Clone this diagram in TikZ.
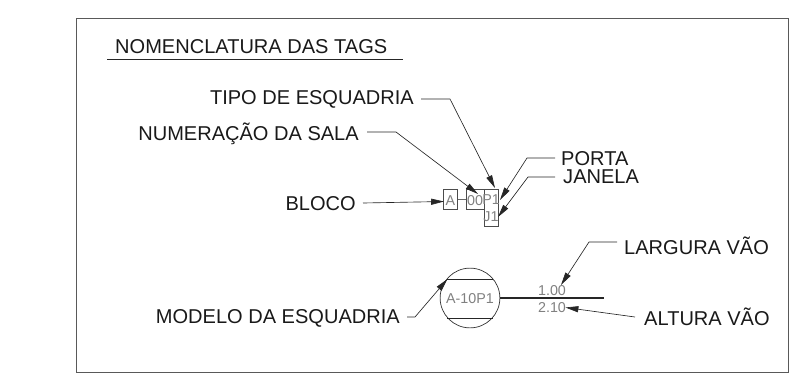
\documentclass[tikz,border=0pt]{standalone}
\usepackage{fontspec}
\setmainfont{Liberation Sans}
\usetikzlibrary{arrows.meta}
\tikzset{
    lbl/.style={font=\fontsize{17.1}{18}\selectfont,inner sep=0pt,text=black!90},
    tagtxt/.style={font=\fontsize{12.2}{13}\selectfont,inner sep=0pt,text=black!50},
    tagbox/.style={draw=black!70,line width=0.5pt,inner sep=0pt},
    leader/.style={draw=black!85,line width=0.55pt,-{Triangle[length=11pt,width=5.2pt]}}
}
\begin{document}
\begin{tikzpicture}[x=0.03cm,y=-0.03cm]
    \useasboundingbox (0,0) rectangle (809,383);

    % moldura e titulo
    \draw[black!65,line width=0.8pt] (76.5,18) rectangle (788,372);
    \node[lbl,anchor=base west] (titulo) at (115,53.5) {NOMENCLATURA DAS TAGS};
    \coordinate (tituloA) at (107,59);
    \coordinate (tituloB) at (403,59);
    \draw[black!85,line width=0.5pt] (tituloA) -- (tituloB);

    % tag da esquadria
    \node[tagbox,minimum width=11.5pt,minimum height=17pt] (bloco) at (450.5,199) {};
    \node[tagbox,minimum width=15.4pt,minimum height=17pt] (sala) at (475,199) {};
    \node[tagbox,minimum width=12pt,minimum height=31.5pt] (tipo) at (491,207.5) {};
    \draw[black!60,line width=0.5pt] (bloco) -- (sala);
    \node[tagtxt] (txtA) at (450.5,201) {A};
    \node[tagtxt] (txt00) at (475,201) {00};
    \node[tagtxt] (txtP) at (491,200) {P1};
    \node[tagtxt] (txtJ) at (491,217) {J1};

    % rotulos da tag
    \node[lbl,anchor=base east] (rotTipo) at (414,104.5) {TIPO DE ESQUADRIA};
    \node[lbl,anchor=base east] (rotSala) at (359,140.5) {NUMERAÇÃO DA SALA};
    \node[lbl,anchor=base east] (rotBloco) at (356,210) {BLOCO};
    \node[lbl,anchor=base west] (rotPorta) at (561,165.5) {PORTA};
    \node[lbl,anchor=base west] (rotJanela) at (563,183) {JANELA};

    \coordinate (dobraTipo) at (450,99);
    \coordinate (dobraSala) at (396,132);
    \coordinate (dobraPorta) at (527,158);
    \coordinate (dobraJanela) at (528,177);
    \coordinate (pontaTipo) at (495,188);
    \coordinate (pontaSala) at (478,194);
    \coordinate (pontaBloco) at (444,201.5);
    \coordinate (pontaPorta) at (500,200);
    \coordinate (pontaJanela) at (498,217);

    \draw[leader] (rotTipo.east |- dobraTipo) ++(7,0) -- (dobraTipo) -- (pontaTipo);
    \draw[leader] (rotSala.east |- dobraSala) ++(8,0) -- (dobraSala) -- (pontaSala);
    \draw[leader] (rotBloco.east |- bloco) ++(7,4) -- (pontaBloco);
    \draw[leader] (rotPorta.west |- dobraPorta) ++(-6,0) -- (dobraPorta) -- (pontaPorta);
    \draw[leader] (rotJanela.west |- dobraJanela) ++(-8,0) -- (dobraJanela) -- (pontaJanela);

    % modelo da esquadria
    \node[circle,draw=black!80,line width=0.6pt,minimum size=51pt,inner sep=0pt] (modelo) at (470,298) {};
    \node[tagtxt] (txtModelo) at (470,299) {A-10P1};
    \coordinate (cordaA) at (447,279);
    \coordinate (cordaB) at (493,279);
    \coordinate (cordaC) at (447,318);
    \coordinate (cordaD) at (493,318);
    \draw[black!85,line width=0.6pt] (cordaA) -- (cordaB) (cordaC) -- (cordaD);

    \coordinate (fimVao) at (604,298);
    \draw[black!85,line width=1pt] (modelo.east) -- (fimVao);
    \node[tagtxt] (txtLargura) at (552,291) {1.00};
    \node[tagtxt] (txtAltura) at (552,308) {2.10};

    \node[lbl,anchor=base east] (rotModelo) at (400,323) {MODELO DA ESQUADRIA};
    \node[lbl,anchor=base west] (rotLargura) at (624,254) {LARGURA VÃO};
    \node[lbl,anchor=base west] (rotAltura) at (644,325) {ALTURA VÃO};

    \coordinate (dobraModelo) at (415,317);
    \coordinate (dobraLargura) at (589,242);
    \coordinate (pontaModelo) at (447.5,279);
    \coordinate (pontaLargura) at (561,285);
    \coordinate (pontaAltura) at (565.5,307.5);

    \draw[leader] (rotModelo.east |- dobraModelo) ++(7,0) -- (dobraModelo) -- (pontaModelo);
    \draw[leader] (rotLargura.west |- dobraLargura) ++(-7,0) -- (dobraLargura) -- (pontaLargura);
    \draw[leader] (rotAltura.west |- 0,317) ++(-9,0) -- (pontaAltura);
\end{tikzpicture}
\end{document}
